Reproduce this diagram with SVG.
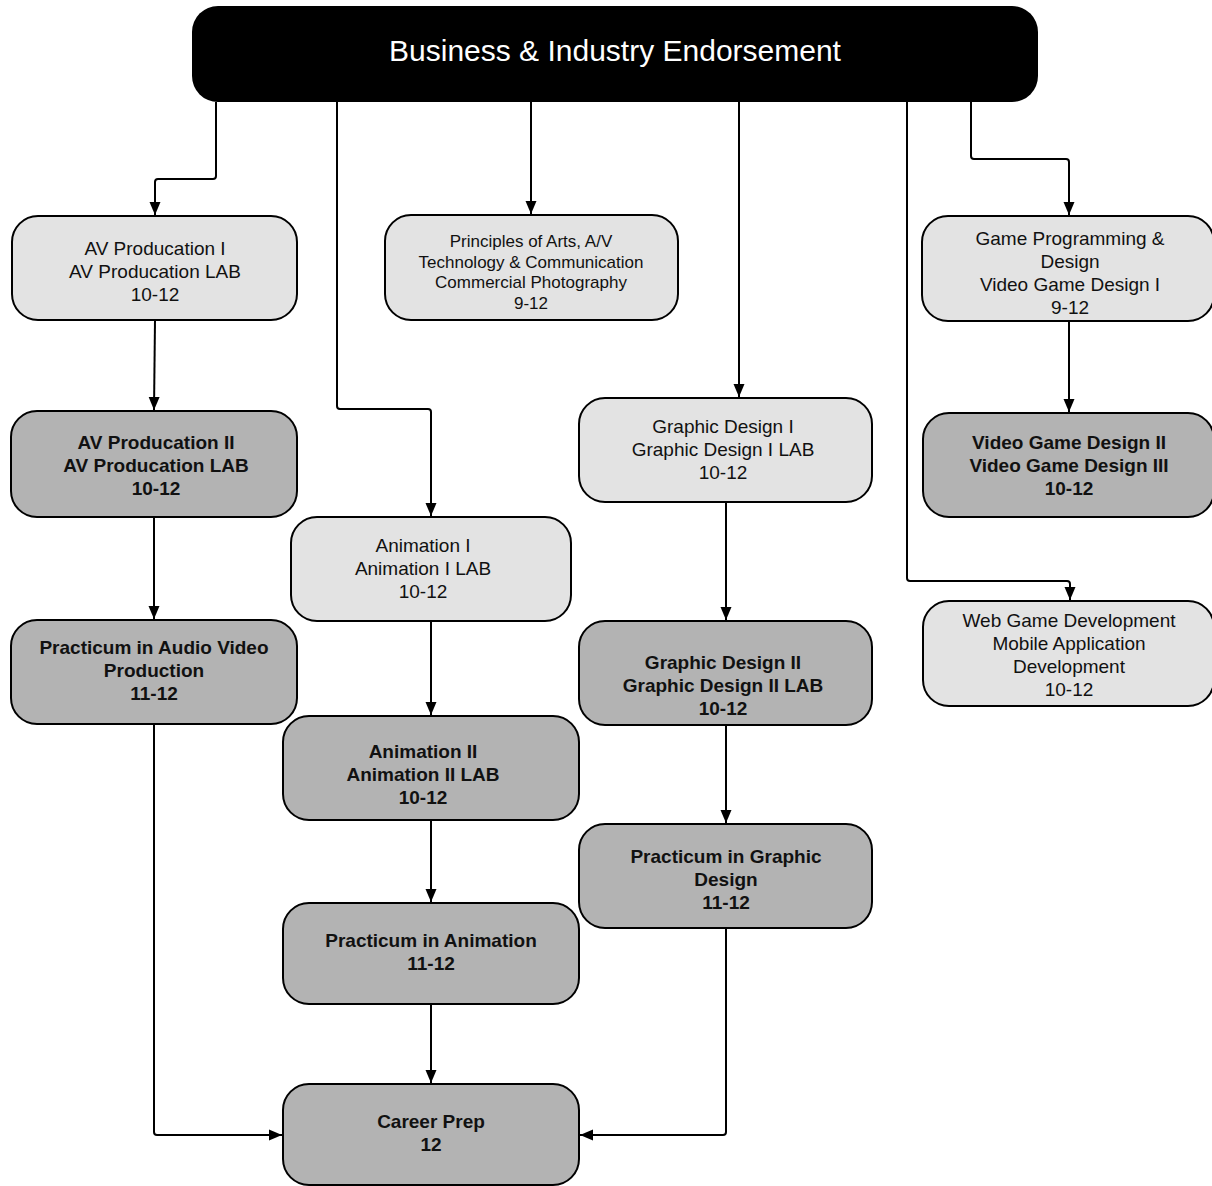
<svg xmlns="http://www.w3.org/2000/svg" width="1212" height="1186" viewBox="0 0 1212 1186">
  <style>
    .box rect { stroke: #000; stroke-width: 2; }
    .light rect { fill: #e3e3e3; }
    .dark rect { fill: #b3b3b3; }
    .box text { font-family: "Liberation Sans", Arial, sans-serif; font-size: 19px; fill: #111; text-anchor: middle; }
    .dark text { font-weight: bold; }
    .small text { font-size: 17px; }
    .edge { fill: none; stroke: #000; stroke-width: 2; stroke-linejoin: round; marker-end: url(#arrow); }
  </style>
  <defs>
    <marker id="arrow" markerUnits="userSpaceOnUse" markerWidth="14" markerHeight="14" viewBox="0 0 14 14" refX="13" refY="7" orient="auto">
      <path d="M0,1.5 L13,7 L0,12.5 Z" fill="#000"/>
    </marker>
  </defs>
  <rect width="1212" height="1186" fill="#fff"/>

  <!-- connectors -->
  <g id="connectors">
    <path class="edge" d="M216,102 V176 Q216,179 213,179 H158 Q155,179 155,182 V215"/>
    <path class="edge" d="M337,102 V406 Q337,409 340,409 H428 Q431,409 431,412 V516"/>
    <path class="edge" d="M531,102 V214"/>
    <path class="edge" d="M739,102 V397"/>
    <path class="edge" d="M907,102 V578 Q907,581 910,581 H1067 Q1070,581 1070,584 V600"/>
    <path class="edge" d="M971,102 V156 Q971,159 974,159 H1066 Q1069,159 1069,162 V215"/>
    <path class="edge" d="M155,320 L154,410"/>
    <path class="edge" d="M154,517 V619"/>
    <path class="edge" d="M154,724 V1132 Q154,1135 157,1135 H282"/>
    <path class="edge" d="M431,621 V715"/>
    <path class="edge" d="M431,820 V902"/>
    <path class="edge" d="M431,1004 V1083"/>
    <path class="edge" d="M726,502 V620"/>
    <path class="edge" d="M726,725 V823"/>
    <path class="edge" d="M726,928 V1132 Q726,1135 723,1135 H580"/>
    <path class="edge" d="M1069,321 V412"/>
  </g>

  <!-- header -->
  <g id="header">
    <rect x="192" y="6" width="846" height="96" rx="26" ry="26" fill="#000"/>
    <text x="615" y="61" font-family="Liberation Sans, Arial, sans-serif" font-size="30" fill="#fff" text-anchor="middle">Business &amp; Industry Endorsement</text>
  </g>

  <g id="av-production-1" class="box light">
    <rect x="12" y="216" width="285" height="104" rx="26"/>
    <text x="155" y="255">AV Producation I</text>
    <text x="155" y="278">AV Producation LAB</text>
    <text x="155" y="301">10-12</text>
  </g>

  <g id="principles" class="box light small">
    <rect x="385" y="215" width="293" height="105" rx="26"/>
    <text x="531" y="247">Principles of Arts, A/V</text>
    <text x="531" y="268">Technology &amp; Communication</text>
    <text x="531" y="288">Commercial Photography</text>
    <text x="531" y="309">9-12</text>
  </g>

  <g id="game-programming" class="box light">
    <rect x="922" y="216" width="292" height="105" rx="26"/>
    <text x="1070" y="245">Game Programming &amp;</text>
    <text x="1070" y="268">Design</text>
    <text x="1070" y="291">Video Game Design I</text>
    <text x="1070" y="314">9-12</text>
  </g>

  <g id="av-production-2" class="box dark">
    <rect x="11" y="411" width="286" height="106" rx="26"/>
    <text x="156" y="449">AV Producation II</text>
    <text x="156" y="472">AV Producation LAB</text>
    <text x="156" y="495">10-12</text>
  </g>

  <g id="graphic-design-1" class="box light">
    <rect x="579" y="398" width="293" height="104" rx="26"/>
    <text x="723" y="433">Graphic Design I</text>
    <text x="723" y="456">Graphic Design I LAB</text>
    <text x="723" y="479">10-12</text>
  </g>

  <g id="video-game-design-2" class="box dark">
    <rect x="923" y="413" width="291" height="104" rx="26"/>
    <text x="1069" y="449">Video Game Design II</text>
    <text x="1069" y="472">Video Game Design III</text>
    <text x="1069" y="495">10-12</text>
  </g>

  <g id="animation-1" class="box light">
    <rect x="291" y="517" width="280" height="104" rx="26"/>
    <text x="423" y="552">Animation I</text>
    <text x="423" y="575">Animation I LAB</text>
    <text x="423" y="598">10-12</text>
  </g>

  <g id="practicum-av" class="box dark">
    <rect x="11" y="620" width="286" height="104" rx="26"/>
    <text x="154" y="654">Practicum in Audio Video</text>
    <text x="154" y="677">Production</text>
    <text x="154" y="700">11-12</text>
  </g>

  <g id="graphic-design-2" class="box dark">
    <rect x="579" y="621" width="293" height="104" rx="26"/>
    <text x="723" y="669">Graphic Design II</text>
    <text x="723" y="692">Graphic Design II LAB</text>
    <text x="723" y="715">10-12</text>
  </g>

  <g id="web-game" class="box light">
    <rect x="923" y="601" width="291" height="105" rx="26"/>
    <text x="1069" y="627">Web Game Development</text>
    <text x="1069" y="650">Mobile Application</text>
    <text x="1069" y="673">Development</text>
    <text x="1069" y="696">10-12</text>
  </g>

  <g id="animation-2" class="box dark">
    <rect x="283" y="716" width="296" height="104" rx="26"/>
    <text x="423" y="758">Animation II</text>
    <text x="423" y="781">Animation II LAB</text>
    <text x="423" y="804">10-12</text>
  </g>

  <g id="practicum-graphic" class="box dark">
    <rect x="579" y="824" width="293" height="104" rx="26"/>
    <text x="726" y="863">Practicum in Graphic</text>
    <text x="726" y="886">Design</text>
    <text x="726" y="909">11-12</text>
  </g>

  <g id="practicum-animation" class="box dark">
    <rect x="283" y="903" width="296" height="101" rx="26"/>
    <text x="431" y="947">Practicum in Animation</text>
    <text x="431" y="970">11-12</text>
  </g>

  <g id="career-prep" class="box dark">
    <rect x="283" y="1084" width="296" height="101" rx="26"/>
    <text x="431" y="1128">Career Prep</text>
    <text x="431" y="1151">12</text>
  </g>
</svg>
